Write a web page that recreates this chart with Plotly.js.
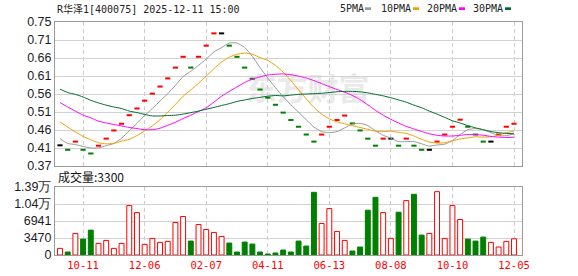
<!DOCTYPE html>
<html><head><meta charset="utf-8">
<script src="https://cdn.plot.ly/plotly-3.0.1.min.js"></script>
<style>html,body{margin:0;padding:0;background:#fff;overflow:hidden}#chart{width:578px;height:276px}</style>
</head><body><div id="chart"></div>
<script>
// ---------- data ----------
const stockName = 'R华泽1[400075]';
const stamp = '2025-12-11 15:00';
const volumeLabel = '成交量';

const dates = [
 '2024-09-20','2024-09-27','2024-09-30','2024-10-11','2024-10-18','2024-10-25','2024-11-01','2024-11-08','2024-11-15','2024-11-22',
 '2024-11-29','2024-12-06','2024-12-13','2024-12-20','2024-12-27','2025-01-03','2025-01-10','2025-01-17','2025-01-24','2025-02-07',
 '2025-02-14','2025-02-21','2025-02-28','2025-03-07','2025-03-14','2025-03-21','2025-03-28','2025-04-11','2025-04-18','2025-04-25',
 '2025-05-09','2025-05-16','2025-05-23','2025-05-30','2025-06-06','2025-06-13','2025-06-20','2025-06-27','2025-07-04','2025-07-11',
 '2025-07-18','2025-07-25','2025-08-01','2025-08-08','2025-08-15','2025-08-22','2025-08-29','2025-09-05','2025-09-12','2025-09-19',
 '2025-09-26','2025-10-10','2025-10-17','2025-10-24','2025-10-31','2025-11-07','2025-11-14','2025-11-21','2025-11-28','2025-12-05'];

const closes = [
 0.422,0.410,0.432,0.410,0.400,0.421,0.440,0.462,0.480,0.503,
 0.521,0.542,0.561,0.580,0.602,0.631,0.660,0.631,0.660,0.690,
 0.723,0.723,0.690,0.660,0.631,0.601,0.572,0.550,0.531,0.510,
 0.490,0.472,0.451,0.432,0.451,0.472,0.490,0.502,0.481,0.462,
 0.440,0.421,0.440,0.440,0.421,0.440,0.421,0.410,0.410,0.432,
 0.451,0.472,0.491,0.472,0.451,0.432,0.432,0.451,0.472,0.480];

const volumes = [
 1354,609,4400,3250,5078,2370,2979,1354,2370,10087,
 8666,2166,3385,2573,2776,6635,7853,2843,6228,5213,
 4604,3791,2437,609,2640,2234,609,203,406,1015,
 609,2843,1828,12795,6432,9478,4807,2979,812,1625,
 9140,11780,8666,3385,8733,11103,12390,4062,4400,12931,
 3385,10087,7244,3250,2843,3656,2573,1625,2776,3300];

const ma5 = [
 0.440,0.427,0.424,0.419,0.415,0.415,0.421,0.427,0.441,0.461,
 0.481,0.502,0.521,0.541,0.561,0.583,0.607,0.621,0.637,0.654,
 0.673,0.685,0.697,0.697,0.685,0.661,0.631,0.603,0.577,0.553,
 0.531,0.511,0.491,0.471,0.459,0.456,0.459,0.469,0.479,0.481,
 0.475,0.461,0.449,0.441,0.432,0.432,0.432,0.426,0.420,0.423,
 0.425,0.435,0.451,0.464,0.467,0.464,0.456,0.448,0.448,0.453];
const ma10 = [
 0.485,0.471,0.458,0.446,0.437,0.429,0.426,0.427,0.433,0.438,
 0.448,0.461,0.474,0.491,0.511,0.532,0.554,0.571,0.589,0.608,
 0.628,0.646,0.659,0.667,0.670,0.667,0.658,0.650,0.637,0.619,
 0.596,0.571,0.547,0.524,0.506,0.493,0.485,0.480,0.475,0.470,
 0.465,0.460,0.459,0.460,0.457,0.454,0.447,0.438,0.431,0.428,
 0.429,0.434,0.439,0.442,0.445,0.444,0.445,0.449,0.456,0.460];
const ma20 = [
 0.537,0.525,0.514,0.503,0.496,0.487,0.482,0.478,0.474,0.470,
 0.467,0.464,0.464,0.468,0.476,0.484,0.494,0.503,0.513,0.523,
 0.538,0.554,0.567,0.579,0.591,0.600,0.606,0.611,0.613,0.614,
 0.612,0.608,0.603,0.596,0.588,0.580,0.572,0.565,0.556,0.545,
 0.531,0.516,0.503,0.492,0.482,0.473,0.466,0.459,0.453,0.449,
 0.447,0.447,0.449,0.451,0.451,0.449,0.446,0.444,0.443,0.444];
const ma30 = [
 0.573,0.564,0.559,0.552,0.543,0.536,0.530,0.525,0.521,0.514,
 0.510,0.505,0.501,0.501,0.502,0.503,0.506,0.510,0.514,0.519,
 0.524,0.529,0.534,0.540,0.544,0.548,0.551,0.554,0.556,0.555,
 0.557,0.559,0.560,0.561,0.562,0.564,0.566,0.567,0.567,0.566,
 0.563,0.559,0.555,0.550,0.544,0.538,0.530,0.523,0.514,0.506,
 0.497,0.488,0.482,0.475,0.469,0.464,0.459,0.456,0.454,0.453];

const maNames = ['5PMA','10PMA','20PMA','30PMA'];
const tickDates = ['2024-10-11','2024-12-06','2025-02-07','2025-04-11','2025-06-13','2025-08-08','2025-10-10','2025-12-05'];
const priceTickLabels = ['0.37','0.41','0.46','0.51','0.56','0.61','0.66','0.71','0.75'];
const volTickLabels = ['0','3470','6941','1.04万','1.39万'];
const priceMin = 0.3664, priceMax = 0.7536;
const volMax = 13882;

// ---------- styling ----------
const UP = '#ff0000', DOWN = '#008000', FLAT = '#000000';
const maColors = ['#999999', '#f2a000', '#ff00ff', '#006b2f'];
const W = 578, H = 276, L = 55, R = 56, T = 22, B = 21;
const PW = W - L - R, PH = H - T - B;
const px2x = p => (p - L) / PW;
const py2y = p => (H - B - p) / PH;

const dir = closes.map((c, i) => i === 0 ? 0 : Math.sign(c - closes[i - 1]));
const candleColors = dir.map(d => d > 0 ? UP : d < 0 ? DOWN : FLAT);
const volLine = dir.map(d => d < 0 ? DOWN : UP);
const volFill = dir.map(d => d < 0 ? DOWN : '#ffffff');

const traces = [];
traces.push({
  type: 'scatter', mode: 'markers', x: dates, y: closes, xaxis: 'x', yaxis: 'y',
  marker: { symbol: 'line-ew', size: 3.7, color: candleColors, line: { color: candleColors, width: 2 } },
  hoverinfo: 'skip', showlegend: false
});
[ma5, ma10, ma20, ma30].forEach((m, k) => traces.push({
  type: 'scatter', mode: 'lines', x: dates, y: m, xaxis: 'x', yaxis: 'y', name: maNames[k],
  line: { color: maColors[k], width: 1, shape: 'spline', smoothing: 0.6 },
  hoverinfo: 'skip', showlegend: false
}));
traces.push({
  type: 'bar', x: dates, y: volumes, xaxis: 'x2', yaxis: 'y2', width: 0.64,
  marker: { color: volFill, line: { color: volLine, width: 1 } },
  hoverinfo: 'skip', showlegend: false
});

const xr = [-0.65, 60.04];
const gridDash = '4px,3px';
const frame = { showline: true, mirror: true, linecolor: '#9a9a9a', linewidth: 1, zeroline: false, ticks: '', fixedrange: true };
const ytickFont = { family: 'Liberation Sans, Arial, sans-serif', size: 12.5, color: '#1c1c28' };

const priceTicks = priceTickLabels.map((_, i) => priceMin + i * (priceMax - priceMin) / (priceTickLabels.length - 1));
const volTicks = volTickLabels.map((_, i) => i * volMax / (volTickLabels.length - 1));

const annotations = [];
const monoFont = 'DejaVu Sans Mono, Noto Sans CJK SC, monospace';
annotations.push({ xref: 'paper', yref: 'paper', x: px2x(55), y: py2y(8.5), xanchor: 'left', yanchor: 'middle',
  text: stockName + ' ' + stamp, showarrow: false, font: { family: monoFont, size: 10, color: '#222' } });
const legX = [338, 379, 425, 471];
const legBox = [[365, 371], [413, 419], [459, 465], [505, 511]];
const shapes = [];
maNames.forEach((n, k) => {
  annotations.push({ xref: 'paper', yref: 'paper', x: px2x(legX[k]), y: py2y(8.5), xanchor: 'left', yanchor: 'middle',
    text: n, showarrow: false, font: { family: monoFont, size: 10, color: '#222' } });
  shapes.push({ type: 'rect', xref: 'paper', yref: 'paper', x0: px2x(legBox[k][0]), x1: px2x(legBox[k][1]),
    y0: py2y(10), y1: py2y(7.3), line: { width: 0 }, fillcolor: maColors[k] });
});
annotations.push({ xref: 'paper', yref: 'paper', x: px2x(56), y: py2y(176.5), xanchor: 'left', yanchor: 'middle',
  text: volumeLabel + ':' + volumes[volumes.length - 1], showarrow: false,
  font: { family: 'Noto Sans CJK SC, sans-serif', size: 12, color: '#111' } });

// watermark
shapes.push({ type: 'rect', xref: 'paper', yref: 'paper', layer: 'below',
  x0: px2x(235), x1: px2x(380), y0: py2y(108), y1: py2y(74), line: { width: 0 }, fillcolor: 'rgba(0,0,0,0)',
  label: { text: '东方财富', textposition: 'middle center',
    font: { family: 'Noto Sans CJK SC, sans-serif', size: 31, color: '#e9e9e9', weight: 'bold' } } });

const layout = {
  width: W, height: H, margin: { l: L, r: R, t: T, b: B, pad: 0 },
  paper_bgcolor: '#ffffff', plot_bgcolor: '#ffffff', showlegend: false,
  xaxis: Object.assign({}, frame, { type: 'category', range: xr, anchor: 'y', domain: [0, 1],
    tickvals: tickDates, showticklabels: false, showgrid: true, gridcolor: '#cdcdcd', griddash: gridDash, gridwidth: 1 }),
  yaxis: Object.assign({}, frame, { domain: [py2y(166), 1], range: [priceMin, priceMax], anchor: 'x',
    tickvals: priceTicks, ticktext: priceTickLabels, tickfont: ytickFont, showgrid: true, gridcolor: '#d2d2d2', gridwidth: 1 }),
  xaxis2: Object.assign({}, frame, { type: 'category', range: xr, anchor: 'y2', domain: [0, 1],
    tickvals: tickDates, ticktext: tickDates.map(d => d.slice(5)),
    tickfont: { family: monoFont, size: 10.5, color: '#ff0000' },
    showgrid: true, gridcolor: '#cdcdcd', griddash: gridDash, gridwidth: 1 }),
  yaxis2: Object.assign({}, frame, { domain: [0, py2y(187)], range: [0, volMax], anchor: 'x2',
    tickvals: volTicks, ticktext: volTickLabels, tickfont: ytickFont, showgrid: true, gridcolor: '#d2d2d2', gridwidth: 1 }),
  annotations: annotations, shapes: shapes, hovermode: false
};

Plotly.newPlot('chart', traces, layout, { staticPlot: true, displayModeBar: false });
</script>
</body></html>
